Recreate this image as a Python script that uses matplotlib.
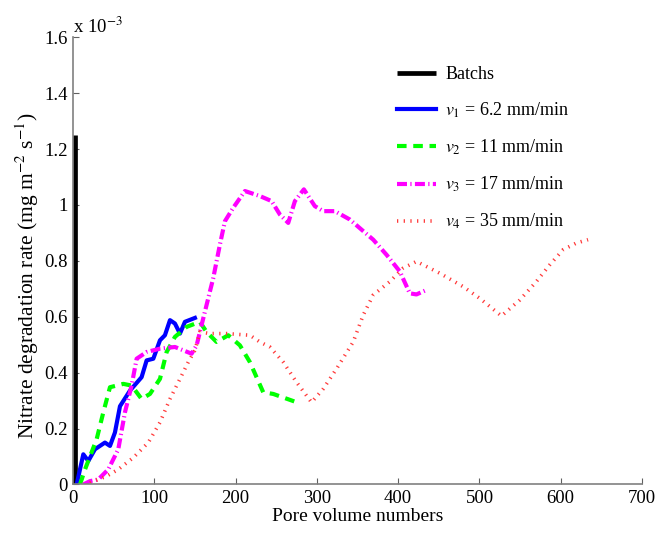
import matplotlib
matplotlib.use("Agg")
import matplotlib.pyplot as plt
from matplotlib.ticker import FuncFormatter

plt.rcParams['font.family'] = ['Liberation Serif', 'DejaVu Serif']
plt.rcParams['mathtext.fontset'] = 'stix'

# Data (rate in units of 1e-3 mg m^-2 s^-1)
batch_x = [2, 2]
batch_y = [0, 1.25]

v1_x = [4.5, 12.7, 18.8, 27.0, 39.3, 45.5, 51.6, 57.8, 70.1, 84.4, 90.6, 98.8, 107.0, 113.1, 119.3, 125.4, 131.6, 137.7, 150.0]
v1_y = [0.0, 0.108, 0.084, 0.126, 0.15, 0.138, 0.186, 0.28, 0.336, 0.384, 0.444, 0.45, 0.516, 0.534, 0.588, 0.576, 0.54, 0.582, 0.596]

v2_x = [8.6, 14.8, 29.1, 37.3, 45.5, 61.9, 72.1, 84.4, 94.7, 107.0, 115.2, 125.4, 139.8, 156.1, 164.3, 176.6, 191.0, 205.3, 217.6, 234.0, 246.3, 273.4]
v2_y = [0.0, 0.054, 0.162, 0.258, 0.348, 0.36, 0.354, 0.306, 0.324, 0.378, 0.474, 0.528, 0.564, 0.582, 0.546, 0.51, 0.534, 0.498, 0.438, 0.33, 0.324, 0.296]

v3_x = [12.7, 20.9, 31.1, 43.4, 55.7, 63.9, 72.1, 78.3, 90.6, 107.0, 125.4, 145.9, 152.1, 160.2, 172.5, 180.7, 186.9, 197.1, 211.5, 229.9, 244.3, 254.5, 264.8, 273.0, 284.0, 297.5, 307.8, 322.1, 340.6, 354.9, 369.3, 385.7, 402.1, 414.3, 422.5, 434.8]
v3_y = [0.0, 0.012, 0.018, 0.054, 0.126, 0.258, 0.354, 0.45, 0.474, 0.486, 0.492, 0.468, 0.498, 0.594, 0.738, 0.858, 0.942, 0.99, 1.05, 1.032, 1.014, 0.966, 0.936, 1.014, 1.056, 0.996, 0.978, 0.978, 0.948, 0.912, 0.876, 0.822, 0.762, 0.684, 0.68, 0.696]

v4_x = [20.9, 41.4, 55.7, 74.2, 92.6, 107.0, 119.3, 131.6, 141.8, 150.0, 156.1, 168.4, 188.9, 217.6, 229.9, 242.2, 258.6, 275.0, 293.4, 307.8, 324.2, 344.7, 357.0, 369.3, 389.8, 406.1, 422.5, 451.2, 479.9, 500.4, 527.1, 549.6, 570.0, 586.5, 602.9, 619.3, 633.6]
v4_y = [0.006, 0.03, 0.054, 0.096, 0.15, 0.222, 0.306, 0.378, 0.438, 0.48, 0.546, 0.54, 0.54, 0.534, 0.51, 0.492, 0.438, 0.366, 0.294, 0.342, 0.414, 0.51, 0.606, 0.678, 0.726, 0.774, 0.798, 0.756, 0.708, 0.666, 0.603, 0.66, 0.726, 0.786, 0.84, 0.864, 0.876]

labels = ['Batchs', '$v_1$ = 6.2 mm/min', '$v_2$ = 11 mm/min', '$v_3$ = 17 mm/min', '$v_4$ = 35 mm/min']

fig = plt.figure(figsize=(6.57, 5.36), dpi=100)
ax = fig.add_axes([0.1111, 0.0961, 0.8661, 0.8343])

ax.plot(batch_x, batch_y, color='black', lw=3.4, label=labels[0], solid_capstyle='butt')
ax.plot(v1_x, v1_y, color='#0000ff', lw=3.0, label=labels[1])
ax.plot(v2_x, v2_y, color='#00ff00', lw=3.0, ls=(0, (2.3, 1.6)), label=labels[2], dash_capstyle='butt')
ax.plot(v3_x, v3_y, color='#ff00ff', lw=3.0, ls=(0, (2.4, 0.8, 0.3, 0.8)), label=labels[3], dash_capstyle='butt')
ax.plot(v4_x, v4_y, color='#ff3a3a', lw=2.6, ls=(0, (0.35, 1.5)), label=labels[4], dash_capstyle='butt')

ax.set_xlim(0, 700)
ax.set_ylim(0, 1.6)
ax.set_xticks(range(0, 701, 100))
ax.set_yticks([0, 0.2, 0.4, 0.6, 0.8, 1.0, 1.2, 1.4, 1.6])
ax.yaxis.set_major_formatter(FuncFormatter(lambda v, p: '%g' % round(v, 3)))

for s in ['top', 'right']:
    ax.spines[s].set_visible(False)
for s in ['left', 'bottom']:
    ax.spines[s].set_color('#808080')
    ax.spines[s].set_linewidth(1.2)
ax.tick_params(direction='in', length=4, color='#606060', labelsize=13.5, labelcolor='black', pad=4)

ax.set_xlabel('Pore volume numbers', fontsize=14, labelpad=1)
ax.set_ylabel('Nitrate degradation rate (mg m$^{-2}$ s$^{-1}$)', fontsize=15.5)
ax.yaxis.set_label_coords(-0.057, 0.468)
ax.text(0.0, 1.0, 'x 10$^{-3}$', transform=ax.transAxes, fontsize=13.5, ha='left', va='bottom')

leg = ax.legend(loc='upper left', bbox_to_anchor=(0.556, 0.952), frameon=False, fontsize=13,
                handlelength=2.2, handletextpad=0.5, labelspacing=0.98, borderaxespad=0)

fig.savefig('out.png', dpi=100)
